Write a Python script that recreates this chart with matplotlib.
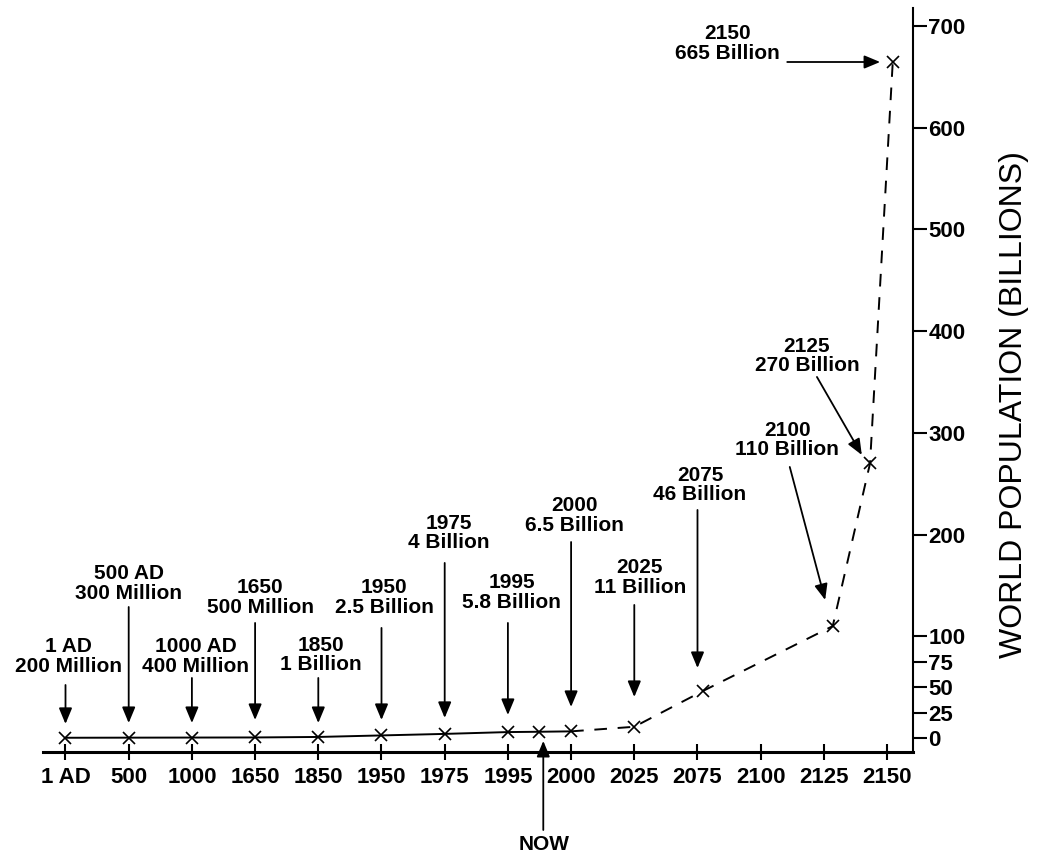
import matplotlib
matplotlib.use("Agg")
import matplotlib.pyplot as plt
from matplotlib.patches import ArrowStyle

# Category ticks along the time axis
tick_labels = ["1 AD", "500", "1000", "1650", "1850", "1950", "1975",
               "1995", "2000", "2025", "2075", "2100", "2125", "2150"]

# Population milestones (billions) and where each sits on the category axis
years = ["1 AD", "500 AD", "1000 AD", "1650", "1850", "1950", "1975",
         "1995", "2000", "2025", "2075", "2100", "2125", "2150"]
positions = [0, 1, 2, 3, 4, 5, 6, 7, 8, 9, 10.08, 12.14, 12.73, 13.09]
population = [0.2, 0.3, 0.4, 0.5, 1, 2.5, 4, 5.8, 6.5, 11, 46, 110, 270, 665]
population_text = ["200 Million", "300 Million", "400 Million", "500 Million",
                   "1 Billion", "2.5 Billion", "4 Billion", "5.8 Billion",
                   "6.5 Billion", "11 Billion", "46 Billion", "110 Billion",
                   "270 Billion", "665 Billion"]

# Present day marker
now_position = 7.5
now_population = 6.1

y_ticks = [0, 25, 50, 75, 100, 200, 300, 400, 500, 600, 700]

FONT = "Liberation Sans"
plt.rcParams["font.family"] = [FONT, "DejaVu Sans"]

fig = plt.figure(figsize=(10.38, 8.56), dpi=100)
ax = fig.add_axes([43 / 1038, 1 - 752 / 856, 870 / 1038, 744 / 856])
ax.set_xlim(-0.356, 13.41)
ax.set_ylim(-13.8, 717.8)

# Historical record (solid) up to 2000, projection (dashed) afterwards
split = years.index("2000")
hist_x = positions[:split] + [now_position, positions[split]]
hist_y = population[:split] + [now_population, population[split]]
ax.plot(hist_x, hist_y, color="black", lw=1.4, solid_capstyle="butt")
ax.plot(positions[split:], population[split:], color="black", lw=1.4,
        linestyle=(0, (6.5, 5.5)))
ax.plot(positions + [now_position], population + [now_population],
        linestyle="none", marker="x", ms=8, mew=1.2, color="black")

# Label placement: text centre, arrow tail and arrow tip (axis units)
layout = {
    "1 AD":    ((0.04, 80.1),   (0, 52.1),        (0, 13.8)),
    "500 AD":  ((1.0, 151.9),   (1, 128.8),       (1, 14.7)),
    "1000 AD": ((2.06, 80.1),   (2, 59.0),        (2, 14.7)),
    "1650":    ((3.08, 138.2),  (3, 113.1),       (3, 17.7)),
    "1850":    ((4.04, 81.6),   (4, 59.0),        (4, 14.7)),
    "1950":    ((5.04, 138.2),  (5, 108.2),       (5, 17.7)),
    "1975":    ((6.07, 201.6),  (6, 172.1),       (6, 19.7)),
    "1995":    ((7.06, 143.1),  (7, 113.1),       (7, 22.6)),
    "2000":    ((8.06, 218.8),  (8, 192.7),       (8, 30.5)),
    "2025":    ((9.09, 157.8),  (9, 130.8),       (9, 40.3)),
    "2075":    ((10.04, 248.8), (10.0, 224.2),    (10.0, 68.8)),
    "2100":    ((11.42, 293.0), (11.46, 266.5),   (12.02, 135.7)),
    "2125":    ((11.73, 375.6), (11.89, 355.0),   (12.6, 278.3)),
    "2150":    ((10.48, 682.9), (11.42, 664.7),   (12.89, 664.7)),
}

head = ArrowStyle("-|>", head_length=0.6, head_width=0.25)
arrow_kw = dict(arrowstyle=head, mutation_scale=16, color="black", lw=1.3,
                shrinkA=0, shrinkB=0)

for year, pop_txt in zip(years, population_text):
    text_xy, tail, tip = layout[year]
    ax.text(text_xy[0], text_xy[1], f"{year}\n{pop_txt}", ha="center",
            va="center", fontsize=15, fontweight="bold", linespacing=1.05,
            family=[FONT, "DejaVu Sans"])
    ax.annotate("", xy=tip, xytext=tail, arrowprops=arrow_kw,
                annotation_clip=False)

# "NOW" pointer from below the axis
ax.annotate("", xy=(now_position + 0.06, -2.9),
            xytext=(now_position + 0.06, -90.5),
            arrowprops=arrow_kw, annotation_clip=False)
ax.text(now_position + 0.07, -105.2, "NOW", ha="center", va="center",
        fontsize=15, fontweight="bold", clip_on=False)

# Axes styling
for side in ("left", "top"):
    ax.spines[side].set_visible(False)
ax.spines["bottom"].set_linewidth(2.2)
ax.spines["right"].set_linewidth(1.5)

ax.set_xticks(range(len(tick_labels)))
ax.set_xticklabels(tick_labels, fontsize=16, fontweight="bold")
ax.tick_params(axis="x", direction="inout", length=12, width=1.5, pad=5)

ax.yaxis.tick_right()
ax.set_yticks(y_ticks)
ax.set_yticklabels([str(v) for v in y_ticks], fontsize=16, fontweight="bold")
ax.tick_params(axis="y", direction="out", length=10, width=1.5, pad=1)

fig.text(1014 / 1038, 1 - 405 / 856, "WORLD POPULATION (BILLIONS)",
         rotation=90, ha="center", va="center", fontsize=23)

fig.savefig("out.png", dpi=100, facecolor="white")
